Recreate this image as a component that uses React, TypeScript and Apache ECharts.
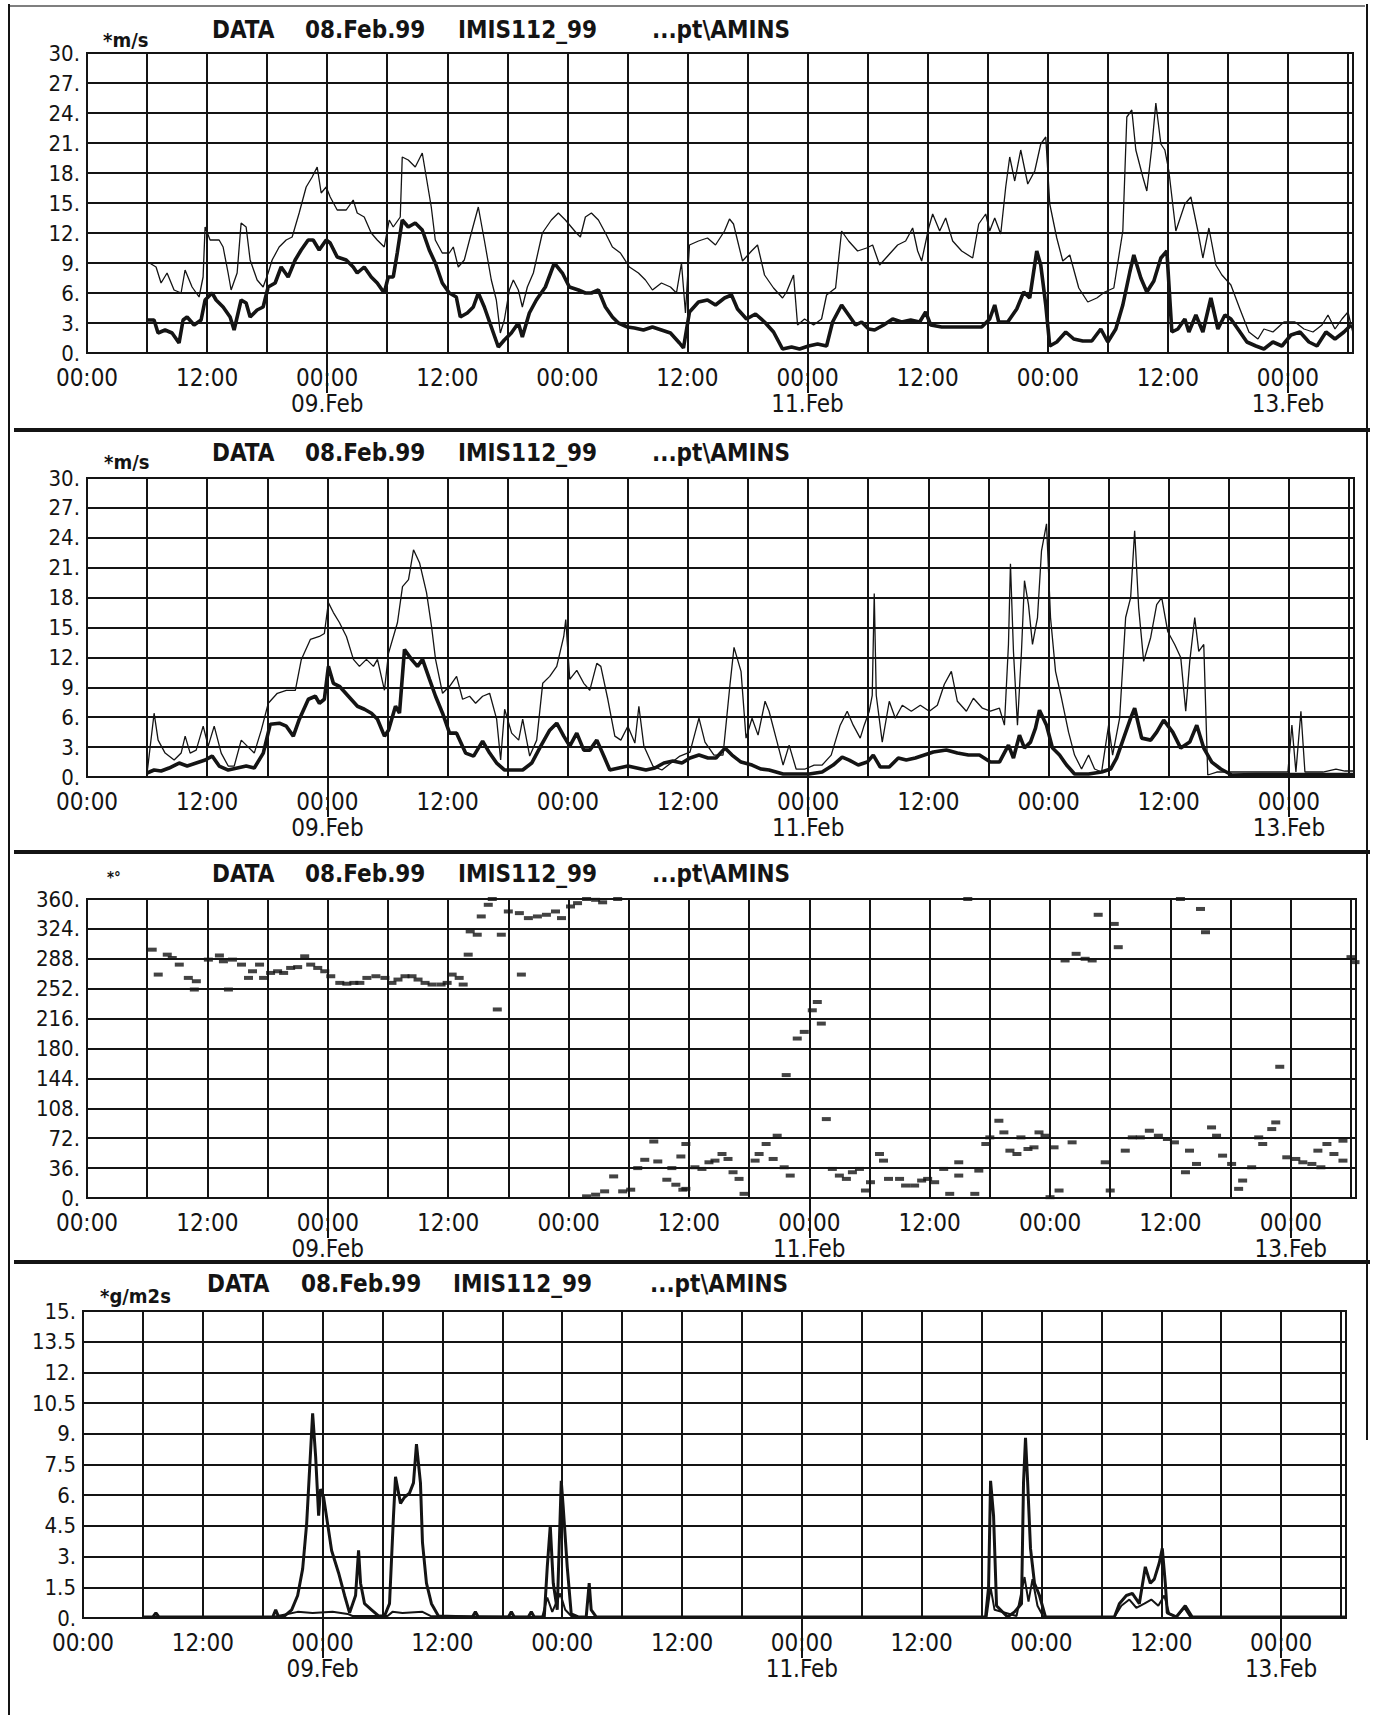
import React, { useEffect, useRef } from "react";
import * as echarts from "echarts";

// ---------- axis / label data ----------
const X_MAX = 126.5;
const X_STEP = 6;
const timeLabels = ["00:00", "12:00"];
const dateTickHours = [24, 72, 120];
const dateTickLabels = ["09.Feb", "11.Feb", "13.Feb"];
const titleParts = ["DATA", "08.Feb.99", "IMIS112_99", "...pt\\AMINS"];
const unitLabels = ["*m/s", "*m/s", "*°", "*g/m2s"];
const yMins = [0, 0, 0, 0];
const yMaxs = [30, 30, 360, 15];
const yIntervals = [3, 3, 36, 1.5];

// ---------- panel 1: wind speed (thin = gust, thick = mean) ----------
const p1ThinH = [6.25, 6.9, 7.4, 8.0, 8.7, 9.4, 9.8, 10.5, 11.2, 11.6, 11.8, 12.3, 13.2, 13.6, 14.1, 14.4, 15.0, 15.4, 15.9, 16.3, 17.0, 17.6, 18.1, 18.5, 19.2, 19.9, 20.5, 21.2, 21.9, 22.5, 23.0, 23.4, 23.9, 24.3, 25.0, 25.9, 26.6, 27.0, 27.7, 28.4, 29.0, 29.7, 30.2, 30.6, 31.3, 31.5, 32.1, 32.8, 33.5, 33.9, 34.4, 34.8, 35.5, 36.2, 36.6, 37.1, 37.7, 38.4, 39.1, 39.7, 40.4, 40.9, 41.3, 41.7, 42.2, 42.6, 43.1, 43.5, 44.0, 44.6, 45.5, 46.4, 47.1, 47.8, 48.9, 49.3, 49.8, 50.4, 51.1, 51.8, 52.5, 53.3, 54.2, 55.1, 55.8, 56.5, 57.4, 58.3, 58.9, 59.4, 59.8, 60.2, 61.1, 62.0, 62.8, 63.7, 64.2, 64.6, 65.5, 66.4, 67.0, 67.7, 68.6, 69.5, 69.9, 70.6, 71.0, 71.7, 72.6, 73.4, 73.9, 74.8, 75.4, 76.1, 77.0, 77.9, 78.5, 79.2, 80.1, 81.0, 81.8, 82.5, 83.0, 83.4, 84.1, 84.5, 85.2, 85.8, 86.5, 87.4, 88.5, 89.1, 89.8, 90.2, 90.7, 91.3, 91.8, 92.2, 92.7, 93.3, 94.0, 94.7, 95.3, 95.8, 96.2, 96.9, 97.5, 98.2, 99.1, 100.0, 100.9, 101.7, 102.6, 103.5, 103.9, 104.4, 104.8, 105.5, 105.9, 106.4, 106.8, 107.3, 107.7, 108.1, 108.8, 109.7, 110.3, 111.0, 111.5, 112.1, 112.8, 113.4, 114.3, 115.2, 116.1, 117.0, 117.6, 118.5, 119.6, 120.7, 121.6, 122.5, 123.4, 124.0, 124.7, 125.4, 126.0, 126.5];
const p1ThinV = [9.0, 8.6, 7.0, 8.0, 6.3, 6.0, 8.3, 6.6, 5.6, 7.6, 12.6, 11.3, 11.3, 10.6, 8.0, 6.3, 8.0, 13.0, 12.6, 9.3, 7.3, 6.6, 8.0, 9.3, 10.6, 11.3, 11.6, 14.0, 16.6, 17.6, 18.6, 16.0, 16.6, 15.6, 14.3, 14.3, 15.3, 14.0, 13.6, 12.0, 11.3, 10.6, 13.3, 12.6, 13.6, 19.6, 19.3, 18.6, 20.0, 17.6, 14.6, 11.3, 10.0, 10.0, 10.6, 8.6, 9.3, 12.0, 14.6, 11.3, 7.3, 5.3, 2.0, 3.3, 6.3, 7.3, 6.3, 4.6, 6.6, 8.0, 12.0, 13.3, 14.0, 13.3, 12.0, 11.6, 13.6, 14.0, 13.3, 12.0, 10.6, 10.0, 8.6, 8.0, 7.3, 6.3, 7.0, 6.6, 6.0, 9.0, 4.0, 10.8, 11.2, 11.5, 10.8, 12.2, 13.4, 12.9, 9.2, 10.2, 10.8, 7.8, 6.5, 5.5, 6.1, 7.8, 2.8, 3.4, 2.8, 3.4, 5.8, 6.5, 12.2, 11.2, 10.2, 10.5, 10.8, 8.8, 9.8, 10.8, 11.2, 12.5, 10.2, 9.2, 12.5, 13.9, 12.2, 13.5, 11.2, 10.2, 9.5, 12.9, 13.9, 12.2, 13.5, 11.9, 16.6, 19.6, 17.2, 20.3, 16.9, 18.2, 20.9, 21.6, 14.9, 11.5, 9.2, 9.8, 6.5, 5.1, 5.5, 6.1, 6.5, 12.2, 23.6, 24.3, 20.3, 17.6, 16.2, 20.6, 25.0, 20.9, 20.3, 18.2, 12.2, 14.9, 15.6, 12.2, 9.5, 12.5, 8.8, 7.8, 6.8, 4.4, 2.1, 1.4, 2.4, 2.1, 3.1, 3.1, 2.4, 2.1, 2.8, 3.8, 2.4, 3.4, 4.1, 2.0];

const p1ThickH = [6.0, 6.7, 7.1, 7.8, 8.5, 9.2, 9.6, 10.0, 10.7, 11.4, 11.8, 12.5, 12.9, 13.6, 14.3, 14.7, 15.4, 15.9, 16.3, 17.0, 17.6, 18.1, 18.8, 19.4, 20.1, 20.8, 21.4, 22.1, 22.6, 23.2, 23.9, 24.3, 25.0, 25.9, 26.6, 27.0, 27.7, 28.4, 29.0, 29.7, 30.1, 30.6, 31.0, 31.5, 32.1, 32.8, 33.5, 34.2, 34.8, 35.5, 36.2, 36.9, 37.3, 38.0, 38.6, 39.1, 39.7, 40.4, 41.1, 41.7, 42.4, 43.1, 43.5, 44.2, 44.9, 45.8, 46.7, 47.5, 48.2, 49.1, 49.8, 50.4, 51.1, 51.8, 52.5, 53.1, 54.0, 54.7, 55.6, 56.5, 57.4, 58.3, 59.2, 59.6, 60.2, 61.1, 62.0, 62.8, 63.7, 64.4, 65.0, 65.9, 66.8, 67.7, 68.6, 69.5, 70.4, 71.2, 72.1, 73.0, 73.9, 74.5, 75.4, 76.1, 76.8, 77.4, 78.1, 78.7, 79.6, 80.5, 81.4, 82.3, 83.2, 83.8, 84.3, 85.4, 86.7, 88.0, 89.4, 90.2, 90.7, 91.1, 92.0, 92.9, 93.6, 94.2, 94.9, 95.3, 95.8, 96.2, 96.9, 97.8, 98.6, 99.5, 100.4, 101.3, 102.0, 102.8, 103.5, 104.2, 104.6, 105.3, 105.9, 106.6, 107.3, 107.9, 108.4, 109.0, 109.7, 110.1, 110.8, 111.5, 112.3, 113.0, 113.7, 114.3, 115.0, 115.9, 116.8, 117.6, 118.5, 119.4, 120.3, 121.2, 122.1, 122.9, 123.8, 124.7, 125.6, 126.3];
const p1ThickV = [3.3, 3.3, 2.0, 2.3, 2.0, 1.0, 3.3, 3.6, 2.8, 3.3, 5.3, 6.0, 5.3, 4.6, 3.6, 2.3, 5.3, 5.0, 3.6, 4.3, 4.6, 6.6, 7.0, 8.6, 7.6, 9.3, 10.3, 11.3, 11.3, 10.3, 11.3, 11.0, 9.6, 9.3, 8.6, 8.0, 8.6, 7.6, 7.0, 6.0, 7.6, 7.6, 10.0, 13.3, 12.6, 13.0, 12.3, 10.3, 9.0, 7.0, 6.0, 5.6, 3.6, 4.0, 4.6, 6.0, 4.6, 2.6, 0.6, 1.3, 2.0, 3.0, 1.6, 4.0, 5.3, 6.6, 9.0, 8.0, 6.6, 6.3, 6.0, 6.0, 6.3, 4.6, 3.6, 3.0, 2.6, 2.5, 2.3, 2.6, 2.3, 2.0, 1.0, 0.5, 4.1, 5.1, 5.3, 4.8, 5.5, 5.8, 4.4, 3.4, 3.9, 3.1, 2.1, 0.4, 0.6, 0.4, 0.7, 0.9, 0.7, 3.1, 4.8, 3.8, 2.8, 3.1, 2.4, 2.3, 2.8, 3.4, 3.1, 3.3, 3.1, 4.1, 2.8, 2.6, 2.6, 2.6, 2.6, 3.4, 4.8, 3.1, 3.1, 4.4, 6.1, 5.5, 10.2, 8.8, 4.8, 0.7, 1.1, 2.1, 1.4, 1.2, 1.2, 2.4, 1.1, 2.4, 4.8, 8.1, 9.8, 7.5, 6.1, 7.2, 9.5, 10.2, 2.1, 2.4, 3.4, 2.1, 3.8, 2.1, 5.5, 2.4, 3.8, 3.4, 2.4, 1.1, 0.7, 0.4, 1.1, 0.7, 1.8, 2.1, 1.1, 0.7, 2.1, 1.4, 2.1, 2.8];

// ---------- panel 2: wind speed, second station ----------
const p2ThinH = [6.0, 6.7, 7.1, 7.8, 8.7, 9.4, 9.8, 10.3, 10.9, 11.6, 12.1, 12.7, 13.4, 14.1, 14.7, 15.4, 16.0, 16.7, 17.4, 18.1, 19.0, 19.9, 20.8, 21.4, 22.3, 23.2, 23.7, 24.1, 24.6, 25.2, 25.9, 26.6, 27.2, 27.9, 28.6, 29.0, 29.7, 30.1, 31.0, 31.5, 32.1, 32.6, 33.2, 33.9, 34.4, 34.8, 35.5, 36.2, 36.9, 37.5, 38.2, 38.8, 39.5, 40.2, 40.9, 41.3, 41.7, 42.4, 43.1, 43.5, 44.2, 44.9, 45.5, 46.2, 46.9, 47.6, 47.8, 48.2, 48.9, 49.6, 50.2, 50.9, 51.3, 52.0, 52.7, 53.3, 54.0, 54.7, 55.1, 55.6, 56.5, 57.4, 58.3, 59.2, 60.2, 61.1, 61.7, 62.6, 63.5, 64.2, 64.6, 65.3, 65.8, 66.4, 67.0, 67.7, 68.1, 68.8, 69.5, 70.1, 70.8, 71.7, 72.6, 73.4, 74.3, 75.2, 75.9, 76.5, 77.2, 77.6, 78.1, 78.4, 78.6, 78.8, 79.4, 80.1, 80.7, 81.4, 82.3, 83.2, 84.1, 84.9, 85.6, 86.3, 86.9, 87.8, 88.5, 89.4, 90.2, 91.1, 91.6, 92.0, 92.2, 92.5, 92.9, 93.3, 93.6, 94.0, 94.4, 94.9, 95.3, 95.8, 96.2, 96.7, 97.3, 98.0, 98.6, 99.3, 100.0, 100.6, 101.3, 102.0, 102.4, 103.1, 103.7, 104.2, 104.6, 105.0, 105.5, 106.2, 106.8, 107.3, 107.9, 108.6, 109.2, 109.7, 110.1, 110.6, 111.0, 111.5, 111.9, 112.8, 114.6, 116.8, 119.9, 120.3, 120.7, 121.2, 121.6, 123.4, 124.7, 125.6, 126.5];
const p2ThinV = [0.4, 6.4, 3.7, 2.4, 1.7, 2.4, 4.1, 2.4, 2.7, 5.1, 3.1, 5.1, 2.4, 1.1, 1.1, 3.7, 3.1, 2.4, 4.7, 7.4, 8.4, 8.7, 8.7, 11.8, 13.8, 14.1, 14.4, 17.5, 16.5, 15.5, 14.1, 11.8, 11.1, 11.8, 11.1, 11.8, 8.7, 12.4, 15.5, 19.1, 19.8, 22.8, 21.5, 18.5, 15.1, 11.8, 8.4, 9.1, 10.1, 7.8, 8.1, 7.4, 8.1, 8.4, 5.8, 1.7, 6.8, 4.4, 3.7, 5.8, 2.1, 3.7, 9.4, 10.1, 11.1, 14.1, 15.8, 9.8, 10.7, 9.4, 8.7, 11.4, 11.1, 7.8, 4.1, 3.7, 5.1, 3.4, 7.1, 3.1, 1.1, 0.7, 1.4, 2.1, 2.5, 5.9, 3.5, 2.2, 2.2, 9.3, 13.0, 10.6, 3.9, 5.9, 4.2, 7.6, 6.6, 3.9, 1.2, 3.2, 0.8, 0.8, 1.2, 1.2, 2.2, 5.2, 6.6, 5.2, 3.9, 5.2, 6.6, 8.2, 18.4, 8.2, 3.5, 7.6, 5.9, 7.2, 6.6, 7.2, 6.6, 7.2, 9.3, 10.6, 7.6, 6.6, 7.9, 6.9, 6.6, 6.9, 5.2, 13.3, 21.4, 12.6, 5.2, 12.6, 19.7, 17.3, 13.3, 16.0, 22.7, 25.4, 16.0, 10.6, 7.9, 4.5, 2.2, 0.8, 2.2, 0.8, 0.5, 5.2, 2.2, 5.9, 16.0, 18.0, 24.7, 17.0, 11.6, 14.0, 17.3, 18.0, 14.6, 13.3, 12.0, 6.6, 11.6, 16.0, 12.6, 13.3, 0.2, 0.5, 0.5, 0.5, 0.5, 5.2, 0.5, 6.6, 0.5, 0.5, 0.8, 0.6, 0.6];

const p2ThickH = [6.0, 6.7, 7.4, 8.2, 9.2, 10.0, 10.9, 11.8, 12.5, 13.2, 14.1, 15.0, 15.9, 16.7, 17.6, 18.3, 19.2, 19.9, 20.6, 21.2, 22.1, 22.8, 23.2, 23.7, 24.1, 24.6, 25.2, 26.1, 27.0, 27.7, 28.4, 29.0, 29.7, 30.1, 30.8, 31.2, 31.7, 32.4, 33.0, 33.5, 34.2, 34.8, 35.5, 36.2, 36.9, 37.8, 38.6, 39.5, 40.2, 40.9, 41.7, 42.6, 43.5, 44.4, 45.3, 46.2, 46.9, 47.6, 48.2, 48.9, 49.6, 50.2, 50.9, 51.6, 52.2, 53.1, 54.0, 54.9, 55.8, 56.7, 57.6, 58.5, 59.4, 60.2, 61.1, 62.0, 62.8, 63.7, 64.4, 65.3, 66.4, 67.3, 68.1, 69.5, 70.8, 72.1, 73.4, 74.5, 75.4, 76.1, 77.0, 77.9, 78.5, 79.2, 80.1, 81.0, 81.8, 82.7, 83.6, 84.5, 85.8, 86.9, 88.0, 89.1, 90.2, 91.1, 92.0, 92.5, 93.1, 93.6, 94.2, 94.7, 95.1, 95.8, 96.4, 97.1, 97.8, 98.6, 100.0, 101.3, 102.2, 102.8, 103.5, 104.2, 104.6, 105.3, 106.2, 106.8, 107.5, 108.4, 109.2, 110.1, 110.8, 111.5, 112.3, 113.2, 114.3, 116.8, 121.2, 126.5];
const p2ThickV = [0.4, 0.7, 0.6, 0.9, 1.4, 1.1, 1.4, 1.7, 2.1, 1.1, 0.7, 0.9, 1.1, 0.9, 2.4, 5.3, 5.4, 5.1, 4.1, 5.8, 7.8, 8.1, 7.4, 7.8, 11.1, 9.4, 9.1, 8.1, 7.1, 6.8, 6.4, 5.8, 4.1, 4.7, 7.1, 6.4, 12.8, 11.8, 11.1, 11.8, 9.8, 8.1, 6.4, 4.4, 4.4, 2.4, 2.1, 3.6, 2.4, 1.4, 0.7, 0.7, 0.7, 1.4, 3.1, 4.7, 5.4, 4.1, 3.1, 4.4, 2.7, 2.7, 3.7, 2.1, 0.7, 0.9, 1.1, 0.9, 0.7, 0.9, 1.4, 1.6, 1.4, 1.9, 2.2, 1.9, 1.9, 2.9, 2.2, 1.5, 1.2, 0.8, 0.7, 0.3, 0.3, 0.3, 0.5, 1.2, 2.0, 1.7, 1.2, 1.5, 2.2, 1.0, 1.0, 1.9, 1.7, 1.9, 2.2, 2.5, 2.7, 2.4, 2.2, 2.2, 1.5, 1.5, 3.2, 1.9, 4.2, 2.9, 3.5, 4.9, 6.7, 5.2, 2.9, 2.2, 1.2, 0.3, 0.3, 0.5, 0.8, 1.9, 3.9, 5.9, 6.9, 3.9, 3.7, 4.5, 5.7, 4.5, 2.9, 3.5, 5.2, 2.9, 1.5, 0.8, 0.2, 0.25, 0.25, 0.25];

// ---------- panel 3: wind direction ----------
const dirH = [6.5, 7.1, 8.0, 8.5, 9.2, 10.1, 10.7, 10.9, 12.1, 13.2, 13.6, 14.1, 14.5, 15.4, 16.1, 16.5, 17.2, 17.6, 18.3, 19.0, 19.6, 20.3, 21.0, 21.7, 22.3, 23.0, 23.7, 24.3, 25.2, 25.9, 26.6, 27.2, 27.9, 28.8, 29.7, 30.4, 31.0, 31.7, 32.4, 33.0, 33.7, 34.4, 35.3, 35.9, 36.4, 37.1, 37.5, 38.0, 38.2, 38.9, 39.3, 40.0, 40.4, 40.9, 41.3, 42.0, 43.1, 43.3, 44.0, 44.9, 45.8, 46.7, 47.3, 48.2, 48.9, 49.8, 50.7, 51.4, 52.9, 49.8, 50.7, 51.6, 52.5, 53.4, 54.2, 54.9, 55.6, 56.5, 56.9, 57.8, 58.3, 58.7, 59.2, 59.4, 59.7, 59.7, 60.6, 61.3, 62.0, 62.6, 63.3, 63.9, 64.4, 65.0, 65.5, 66.6, 67.0, 67.7, 68.4, 68.8, 69.5, 70.1, 69.7, 70.8, 71.5, 72.3, 72.8, 73.2, 73.7, 74.3, 75.0, 75.7, 76.3, 77.0, 77.6, 78.1, 79.0, 79.4, 79.9, 81.0, 81.6, 82.5, 83.2, 83.8, 84.5, 85.4, 86.0, 86.9, 86.9, 87.8, 88.5, 88.9, 89.6, 90.0, 90.9, 91.4, 92.0, 92.7, 93.1, 93.8, 94.4, 94.9, 95.5, 96.0, 96.4, 96.9, 97.5, 98.2, 98.6, 99.5, 100.2, 100.8, 101.5, 102.0, 102.4, 102.8, 103.5, 104.2, 105.0, 105.9, 106.8, 107.7, 108.4, 109.0, 109.5, 109.9, 110.6, 111.0, 111.5, 112.1, 112.6, 113.2, 114.1, 114.8, 115.2, 116.1, 116.8, 117.2, 118.1, 118.5, 118.9, 119.6, 120.5, 121.2, 122.1, 122.7, 123.0, 123.6, 124.3, 125.2, 125.2, 126.0, 126.4];
const dirDeg = [299, 269, 293, 289, 281, 265, 251, 261, 287, 292, 285, 251, 287, 281, 265, 273, 281, 265, 271, 273, 271, 277, 278, 291, 281, 277, 273, 267, 259, 258, 259, 259, 265, 267, 265, 259, 263, 267, 267, 263, 259, 257, 257, 259, 269, 265, 257, 293, 321, 317, 339, 353, 360, 227, 317, 345, 343, 269, 337, 339, 341, 345, 337, 351, 355, 360, 359, 356, 360, 2, 4, 8, 26, 8, 10, 36, 46, 68, 44, 22, 36, 16, 50, 10, 11, 65, 37, 35, 43, 45, 53, 47, 31, 23, 5, 45, 53, 65, 47, 75, 37, 27, 148, 192, 200, 226, 236, 210, 95, 35, 27, 23, 31, 35, 9, 19, 53, 45, 23, 23, 15, 15, 21, 23, 19, 35, 5, 27, 43, 360, 5, 33, 65, 73, 93, 79, 57, 53, 73, 59, 61, 79, 75, 1, 61, 9, 286, 67, 294, 288, 286, 341, 43, 9, 330, 302, 57, 73, 73, 81, 75, 71, 67, 360, 31, 57, 41, 348, 320, 85, 75, 51, 41, 11, 21, 37, 73, 65, 83, 91, 158, 49, 47, 43, 41, 57, 37, 65, 53, 45, 69, 290, 284];

// ---------- panel 4: snow drift ----------
const driftAH = [6.0, 7.0, 7.3, 7.6, 19.0, 19.3, 19.6, 20.2, 20.9, 21.5, 22.0, 22.4, 22.8, 23.0, 23.3, 23.6, 23.8, 24.1, 24.5, 24.9, 25.6, 26.2, 26.7, 27.3, 27.6, 27.8, 28.2, 28.9, 29.6, 30.2, 30.7, 31.1, 31.3, 31.8, 32.2, 32.7, 33.1, 33.4, 33.8, 34.0, 34.4, 34.9, 35.6, 39.0, 39.3, 39.6, 42.6, 42.9, 43.2, 44.6, 44.9, 45.2, 46.2, 46.5, 46.8, 47.1, 47.5, 47.9, 48.1, 48.5, 48.9, 49.6, 50.4, 50.7, 50.9, 51.4, 90.4, 90.7, 90.9, 91.2, 91.5, 92.6, 93.3, 94.0, 94.2, 94.4, 94.6, 94.9, 95.3, 95.8, 96.4, 103.3, 103.8, 104.5, 105.1, 105.8, 106.4, 106.9, 107.3, 107.8, 108.1, 108.4, 108.6, 109.5, 110.4, 111.1, 126.4];
const driftAV = [0.05, 0.05, 0.25, 0.05, 0.05, 0.4, 0.05, 0.1, 0.4, 1.1, 2.4, 4.6, 8.2, 10.0, 7.9, 5.0, 6.3, 5.9, 4.6, 3.3, 2.2, 1.1, 0.25, 1.1, 3.3, 1.7, 0.7, 0.4, 0.1, 0.1, 0.7, 5.0, 6.9, 5.6, 5.9, 6.1, 6.6, 8.5, 6.6, 3.7, 1.7, 0.7, 0.1, 0.05, 0.3, 0.05, 0.05, 0.3, 0.05, 0.05, 0.3, 0.05, 0.05, 2.5, 4.5, 1.7, 0.4, 6.7, 5.4, 2.5, 0.2, 0.05, 0.05, 1.7, 0.4, 0.05, 0.05, 1.5, 6.7, 5.0, 0.6, 0.05, 0.3, 0.7, 6.6, 8.8, 6.8, 3.4, 1.7, 1.1, 0.05, 0.05, 0.7, 1.1, 1.2, 0.7, 2.5, 1.7, 1.9, 2.7, 3.4, 1.7, 0.25, 0.05, 0.6, 0.05, 0.05];
const driftBH = [6.0, 19.0, 20.5, 21.5, 23.0, 25.0, 26.5, 27.0, 30.5, 31.0, 32.0, 34.0, 34.8, 46.0, 46.5, 47.0, 47.8, 48.3, 49.0, 90.5, 90.9, 91.3, 93.5, 94.3, 94.7, 95.1, 95.6, 96.2, 103.3, 104.0, 104.8, 105.5, 106.3, 107.0, 107.7, 108.3, 108.8, 109.5, 110.3, 110.9, 126.4];
const driftBV = [0.05, 0.05, 0.2, 0.3, 0.25, 0.3, 0.2, 0.1, 0.1, 0.3, 0.25, 0.3, 0.1, 0.05, 1.0, 0.3, 1.2, 0.4, 0.05, 0.05, 1.5, 0.4, 0.1, 2.0, 0.8, 1.9, 0.6, 0.05, 0.05, 0.6, 0.9, 0.5, 0.7, 0.9, 0.6, 1.1, 0.2, 0.05, 0.5, 0.05, 0.05];

// ---------- layout ----------
const FONT = "'DejaVu Sans Condensed','Liberation Sans Narrow','Roboto Condensed','DejaVu Sans',sans-serif";
const INK = "#141414";
const grids = [
  { left: 87, top: 53, width: 1266, height: 300 },
  { left: 87, top: 478, width: 1267, height: 299 },
  { left: 87, top: 899, width: 1269, height: 299 },
  { left: 83, top: 1311, width: 1263, height: 307 },
];
const titleX = [[212, 305, 458, 652], [212, 305, 458, 652], [212, 305, 458, 652], [207, 301, 453, 650]];
const titleY = [30, 453, 874, 1284];
const unitPos = [[103, 40], [104, 462], [107, 878], [100, 1296]];
const separatorsY = [430, 852, 1262];

const zip = (h: number[], v: number[]) => h.map((x, i) => [x, v[i]]);

function xLabel(v: number): string {
  const h = Math.round(v);
  if (Math.abs(v - h) > 1e-6 || h % 12 !== 0) return "";
  const t = h % 24 === 0 ? timeLabels[0] : timeLabels[1];
  const di = dateTickHours.indexOf(h);
  return di >= 0 ? t + "\n" + dateTickLabels[di] : t;
}
function yLabel(v: number): string {
  return Number.isInteger(v) ? v + "." : String(v);
}

export default function App() {
  const ref = useRef<HTMLDivElement>(null);
  useEffect(() => {
    if (!ref.current) return;
    const chart = echarts.init(ref.current, undefined, { renderer: "svg" });
    const xAxis: any[] = [];
    grids.forEach((_, i) => {
      xAxis.push({
        gridIndex: i,
        type: "value",
        position: "bottom",
        min: 0,
        max: X_MAX,
        interval: X_STEP,
        axisLine: { show: false },
        axisTick: { show: false },
        axisLabel: {
          formatter: xLabel,
          fontFamily: FONT,
          fontSize: 24,
          lineHeight: 26,
          color: INK,
          margin: 12,
          showMaxLabel: false,
        },
        splitLine: { show: true, lineStyle: { color: INK, width: 2 } },
      });
    });
    grids.forEach((_, i) => {
      xAxis.push({
        gridIndex: i,
        type: "value",
        position: "bottom",
        min: 0,
        max: X_MAX,
        interval: X_STEP,
        axisLine: { show: false },
        axisTick: { show: true, customValues: dateTickHours, length: 40, lineStyle: { color: INK, width: 2 } },
        axisLabel: { show: false },
        splitLine: { show: false },
      });
    });
    const yAxis = grids.map((_, i) => ({
      gridIndex: i,
      type: "value",
      min: yMins[i],
      max: yMaxs[i],
      interval: yIntervals[i],
      axisLine: { show: false },
      axisTick: { show: false },
      axisLabel: { formatter: yLabel, fontFamily: FONT, fontSize: 22, color: INK, margin: 7 },
      splitLine: { show: true, lineStyle: { color: INK, width: 2 } },
    }));
    const lineSeries = (data: number[][], idx: number, width: number, z: number) => ({
      type: "line",
      xAxisIndex: idx,
      yAxisIndex: idx,
      data,
      showSymbol: false,
      symbol: "none",
      lineStyle: { color: INK, width },
      z,
      silent: true,
    });
    const graphic: any[] = [];
    grids.forEach((_, i) => {
      titleParts.forEach((t, j) => {
        graphic.push({
          type: "text",
          x: titleX[i][j],
          y: titleY[i],
          style: { text: t, fill: INK, font: `bold 24px ${FONT}`, textVerticalAlign: "middle" },
        });
      });
      graphic.push({
        type: "text",
        x: unitPos[i][0],
        y: unitPos[i][1],
        style: { text: unitLabels[i], fill: INK, font: `bold ${i === 2 ? 15 : 20}px ${FONT}`, textVerticalAlign: "middle" },
      });
    });
    separatorsY.forEach((y) => {
      graphic.push({ type: "line", shape: { x1: 14, y1: y, x2: 1370, y2: y }, style: { stroke: INK, lineWidth: 4 } });
    });
    graphic.push({ type: "line", shape: { x1: 9, y1: 6, x2: 1365, y2: 6 }, style: { stroke: "#555", lineWidth: 1.5 } });
    graphic.push({ type: "line", shape: { x1: 9, y1: 4, x2: 9, y2: 1715 }, style: { stroke: INK, lineWidth: 2 } });
    graphic.push({ type: "line", shape: { x1: 1367, y1: 4, x2: 1367, y2: 1440 }, style: { stroke: INK, lineWidth: 2 } });

    chart.setOption({
      animation: false,
      backgroundColor: "#fff",
      grid: grids.map((g) => ({ ...g, show: true, borderColor: INK, borderWidth: 2, containLabel: false })),
      xAxis,
      yAxis,
      graphic,
      series: [
        lineSeries(zip(p1ThinH, p1ThinV), 0, 1.3, 3),
        lineSeries(zip(p1ThickH, p1ThickV), 0, 3.6, 4),
        lineSeries(zip(p2ThinH, p2ThinV), 1, 1.3, 3),
        lineSeries(zip(p2ThickH, p2ThickV), 1, 3.6, 4),
        {
          type: "scatter",
          xAxisIndex: 2,
          yAxisIndex: 2,
          data: zip(dirH, dirDeg),
          symbol: "rect",
          symbolSize: [9, 4],
          itemStyle: { color: INK },
          silent: true,
          z: 4,
        },
        lineSeries(zip(driftBH, driftBV), 3, 2, 3),
        lineSeries(zip(driftAH, driftAV), 3, 3, 4),
      ],
    });
    return () => chart.dispose();
  }, []);
  return (
    <div
      ref={ref}
      style={{ position: "absolute", left: 0, top: 0, width: 1373, height: 1715, background: "#fff" }}
    />
  );
}
